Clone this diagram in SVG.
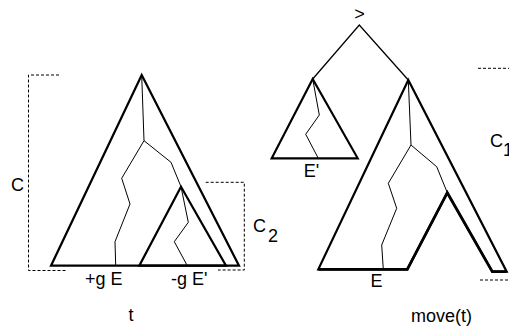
<svg xmlns="http://www.w3.org/2000/svg" width="509" height="327" viewBox="0 0 509 327">
<style>
.tri{fill:none;stroke:#000;stroke-width:2.2;stroke-linejoin:miter}
.thk{fill:none;stroke:#000;stroke-width:2.8}
.thin{fill:none;stroke:#000;stroke-width:1}
.edge{fill:none;stroke:#000;stroke-width:1.3}
.dash{fill:none;stroke:#000;stroke-width:1;stroke-dasharray:3,2}
text{font-family:"Liberation Sans",Arial,sans-serif;font-size:18px;fill:#000}
</style>
<rect width="509" height="327" fill="#fff"/>
<g id="left-tree">
<polygon class="tri" points="141.7,75 51,265.7 239,265.7"/>
<polygon class="tri" points="181,186.7 139.3,265.7 226,265.7"/>
<polyline class="thin" points="141.7,75 144,140.7 121.7,178.3 130,204 115,241.7 115.7,265.7"/>
<polyline class="thin" points="144,140.7 171,162.3 181,186.7 188.3,222.3 174.3,241.7 187.3,265.7"/>
</g>
<g id="bracket-C">
<polyline class="dash" points="59,75 28.5,75 28.5,270.5 67,270.5"/>
<text x="11" y="191">C</text>
</g>
<g id="bracket-C2">
<polyline class="dash" points="205.7,182.3 244.3,182.3 244.3,270 218,270"/>
<text x="253" y="232.3">C</text>
<text x="268" y="241.7">2</text>
</g>
<g id="labels-left">
<text x="85" y="285">+g E</text>
<text x="171" y="285">-g E'</text>
<text x="131" y="321" text-anchor="middle">t</text>
</g>
<g id="connectors">
<polyline class="edge" points="312.7,79 359.3,25 408.3,80"/>
</g>
<g id="root">
<text x="359.5" y="20" text-anchor="middle">&gt;</text>
</g>
<g id="small-tree">
<polygon class="tri" points="312.7,79 271.7,158.3 357.7,158.3"/>
<polyline class="thin" points="312.7,79 319.3,115 305.7,134.3 318.3,158.3"/>
<text x="311.5" y="176.7" text-anchor="middle">E'</text>
</g>
<g id="big-tree">
<polygon class="tri" points="408.3,80 318.3,269.3 407.3,269.3 447.3,192.7 492.3,271.7 506.7,271.7"/>
<polyline class="thk" points="318.3,269.3 407.3,269.3 447.3,192.7 492.3,271.7 506.7,271.7"/>
<polyline class="thin" points="408.3,80 411,145 388.3,183.3 396.7,208.3 381.7,245 383.3,269.3"/>
<polyline class="thin" points="411,145 436.7,166.7 447.3,192.7"/>
<text x="376.5" y="286.7" text-anchor="middle">E</text>
</g>
<g id="bracket-C1">
<line class="dash" x1="478" y1="68.3" x2="509" y2="68.3"/>
<line class="dash" x1="480" y1="280" x2="509" y2="280"/>
<text x="490" y="147">C</text>
<text x="503" y="156">1</text>
</g>
<g id="labels-right">
<text x="411" y="321.5">move(t)</text>
</g>
</svg>
